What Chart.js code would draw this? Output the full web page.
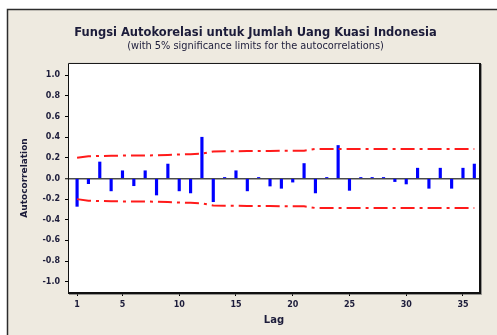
<!DOCTYPE html>
<html>
<head>
<meta charset="utf-8">
<script src="https://cdn.jsdelivr.net/npm/chart.js@4.4.1/dist/chart.umd.min.js"></script>
<style>
  html, body { margin: 0; padding: 0; background: #ffffff; }
  canvas { display: block; }
</style>
</head>
<body>
<canvas id="acf" width="497" height="335"></canvas>
<script>
// Autocorrelation at each lag
const lags = [1, 2, 3, 4, 5, 6, 7, 8, 9, 10, 11, 12, 13, 14, 15, 16, 17, 18,
              19, 20, 21, 22, 23, 24, 25, 26, 27, 28, 29, 30, 31, 32, 33, 34, 35, 36];
const acf = [-0.27, -0.05, 0.16, -0.12, 0.075, -0.07, 0.075, -0.16, 0.14, -0.12, -0.14, 0.40,
             -0.225, 0.01, 0.075, -0.12, 0.01, -0.073, -0.095, -0.035, 0.145, -0.14, 0.01, 0.32,
             -0.115, 0.01, 0.01, 0.01, -0.03, -0.053, 0.10, -0.095, 0.10, -0.095, 0.10, 0.14];
// 5% significance limit (upper; the lower limit is its mirror)
const limit = [0.20, 0.215, 0.218, 0.22, 0.222, 0.222, 0.223, 0.225, 0.228, 0.233, 0.236, 0.24,
               0.262, 0.265, 0.265, 0.266, 0.267, 0.267, 0.268, 0.268, 0.27, 0.286, 0.286, 0.286,
               0.287, 0.287, 0.287, 0.287, 0.287, 0.287, 0.287, 0.287, 0.287, 0.287, 0.287, 0.287];
const xTicks = [1, 5, 10, 15, 20, 25, 30, 35];
const yTicks = [-1.0, -0.8, -0.6, -0.4, -0.2, 0.0, 0.2, 0.4, 0.6, 0.8, 1.0];

const FAMILY = 'DejaVu Sans';
const INK = '#1c1c3a';

const toPoints = (ys) => lags.map((lag, i) => ({ x: lag, y: ys[i] }));

// Window background, outer frame and the plot box
const framePlugin = {
  id: 'framePlugin',
  beforeDraw(chart) {
    const { ctx, chartArea: a, width, height } = chart;
    ctx.save();
    ctx.fillStyle = '#ffffff';
    ctx.fillRect(0, 0, width, height);
    ctx.fillStyle = '#eeeae0';
    ctx.fillRect(7, 9, width - 7, height - 9);
    ctx.strokeStyle = '#2c2c2c';
    ctx.lineWidth = 1.5;
    ctx.beginPath();
    ctx.moveTo(7.5, height);
    ctx.lineTo(7.5, 9.5);
    ctx.lineTo(width, 9.5);
    ctx.stroke();
    ctx.fillStyle = '#ffffff';
    ctx.fillRect(a.left, a.top, a.right - a.left, a.bottom - a.top);
    ctx.restore();
  },
  afterDraw(chart) {
    const { ctx, chartArea: a } = chart;
    ctx.save();
    ctx.strokeStyle = '#111111';
    ctx.lineWidth = 1;
    ctx.beginPath();
    ctx.moveTo(a.left + 0.5, a.bottom);
    ctx.lineTo(a.left + 0.5, a.top + 0.5);
    ctx.lineTo(a.right, a.top + 0.5);
    ctx.stroke();
    ctx.lineWidth = 2;
    ctx.beginPath();
    ctx.moveTo(a.right, a.top);
    ctx.lineTo(a.right, a.bottom);
    ctx.lineTo(a.left, a.bottom);
    ctx.stroke();
    ctx.strokeStyle = 'rgba(90,90,90,0.6)';
    ctx.lineWidth = 1;
    ctx.beginPath();
    ctx.moveTo(a.right + 1.5, a.top + 1);
    ctx.lineTo(a.right + 1.5, a.bottom + 1.5);
    ctx.lineTo(a.left + 1, a.bottom + 1.5);
    ctx.stroke();
    ctx.restore();
  }
};

const limitLine = {
  type: 'line',
  borderColor: '#ff1a1a',
  borderWidth: 2,
  borderDash: [14, 5, 3, 5],
  pointRadius: 0,
  tension: 0,
  fill: false
};

new Chart(document.getElementById('acf'), {
  type: 'bar',
  data: {
    datasets: [
      Object.assign({ label: 'Upper limit', data: toPoints(limit) }, limitLine),
      Object.assign({ label: 'Lower limit', data: toPoints(limit.map(v => -v)) }, limitLine),
      {
        type: 'bar',
        label: 'Autocorrelation',
        data: toPoints(acf),
        backgroundColor: '#0000ff',
        borderWidth: 0,
        barThickness: 2.5
      }
    ]
  },
  options: {
    responsive: false,
    animation: false,
    devicePixelRatio: 1,
    layout: { padding: { left: 14, right: 0, top: 0, bottom: 0 } },
    plugins: {
      legend: { display: false },
      tooltip: { enabled: false },
      title: {
        display: true,
        text: 'Fungsi Autokorelasi untuk Jumlah Uang Kuasi Indonesia',
        color: INK,
        font: { family: FAMILY, size: 11.5, weight: 'bold', lineHeight: 1.2 },
        padding: { top: 26.1, bottom: 0 }
      },
      subtitle: {
        display: true,
        text: '(with 5% significance limits for the autocorrelations)',
        color: INK,
        font: { family: FAMILY, size: 9.8, lineHeight: 1.2 },
        padding: { top: 0.9, bottom: 10.4 }
      }
    },
    scales: {
      x: {
        type: 'linear',
        offset: false,
        min: 0.2,
        max: 36.5,
        afterBuildTicks: (s) => { s.ticks = xTicks.map(v => ({ value: v })); },
        afterFit: (s) => { s.height = 42; },
        border: { display: false },
        grid: { offset: false, drawOnChartArea: false, drawTicks: true, tickLength: 3, tickColor: '#000000', tickWidth: 1 },
        ticks: {
          autoSkip: false, maxRotation: 0, padding: 4, color: INK,
          font: { family: FAMILY, size: 8, weight: 'bold' }
        },
        title: {
          display: true, text: 'Lag', color: INK,
          font: { family: FAMILY, size: 10, weight: 'bold', lineHeight: 1.2 },
          padding: { top: 0, bottom: 9 }
        }
      },
      y: {
        type: 'linear',
        min: -1.11,
        max: 1.12,
        afterBuildTicks: (s) => { s.ticks = yTicks.map(v => ({ value: v })); },
        afterFit: (s) => { s.width = 54; },
        border: { display: false },
        grid: {
          drawOnChartArea: true, drawTicks: true, tickLength: 3,
          tickColor: '#000000', tickWidth: 1,
          color: (c) => (c.tick && Math.abs(c.tick.value) < 1e-9 ? '#4a4a4a' : 'rgba(0,0,0,0)'),
          lineWidth: (c) => (c.tick && Math.abs(c.tick.value) < 1e-9 ? 1.5 : 1)
        },
        ticks: {
          padding: 5, color: INK,
          font: { family: FAMILY, size: 8, weight: 'bold' },
          callback: (v) => Number(v).toFixed(1)
        },
        title: {
          display: true, text: 'Autocorrelation', color: INK,
          font: { family: FAMILY, size: 9, weight: 'bold', lineHeight: 1.2 },
          padding: { top: 5.6, bottom: 0 }
        }
      },
      yRight: {
        type: 'linear',
        position: 'right',
        display: true,
        afterFit: (s) => { s.width = 17; },
        border: { display: false },
        grid: { display: false },
        ticks: { display: false }
      }
    }
  },
  plugins: [framePlugin]
});
</script>
</body>
</html>
